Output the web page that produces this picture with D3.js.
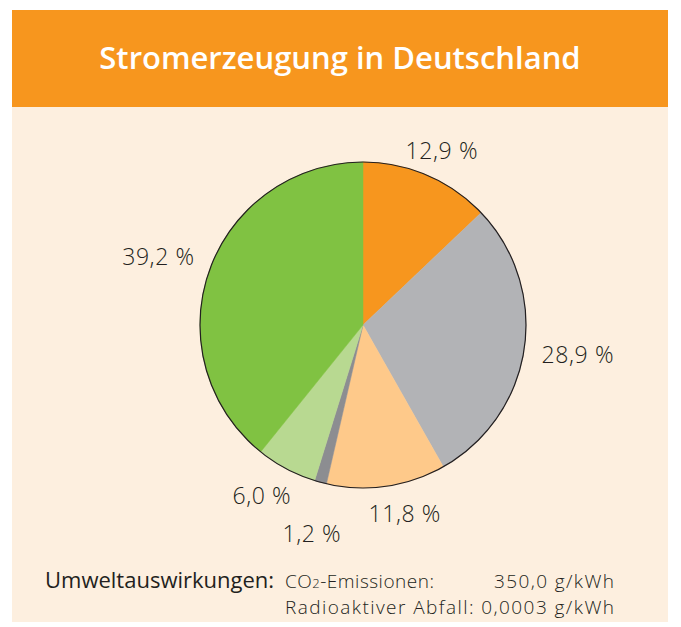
<!DOCTYPE html>
<html>
<head>
<meta charset="utf-8">
<script src="https://cdn.jsdelivr.net/npm/d3@7"></script>
<style>
  body { margin: 0; background: #fff; }
  text { font-family: "Open Sans", sans-serif; }
</style>
</head>
<body>
<div id="chart"></div>
<script>
// data
var sources = ["Kernenergie", "Braunkohle/Steinkohle", "Erdgas", "Öl", "Sonstige", "Erneuerbare"];
var shares = [12.9, 28.9, 11.8, 1.2, 6.0, 39.2];
var labels = ["12,9 %", "28,9 %", "11,8 %", "1,2 %", "6,0 %", "39,2 %"];
var colors = ["#f7961e", "#b2b3b6", "#fec98a", "#8c8d91", "#b8d991", "#80c242"];
// small nudges so labels sit like the original
var labelNudge = [[0, 9], [17, 0], [13, -10], [1, 15], [-7, -6], [-16, -2]];

var width = 681, height = 627;
var cx = 363, cy = 325, radius = 163;

var svg = d3.select("#chart").append("svg").attr("width", width).attr("height", height);

// panel + header
svg.append("rect").attr("x", 12).attr("y", 10).attr("width", 656).attr("height", 612).attr("fill", "#fdefdf");
svg.append("rect").attr("x", 12).attr("y", 10).attr("width", 656).attr("height", 97).attr("fill", "#f7961e");
svg.append("text")
    .attr("x", 340).attr("y", 69)
    .attr("text-anchor", "middle")
    .attr("fill", "#fff")
    .style("font-size", "31px")
    .style("font-weight", 600)
    .text("Stromerzeugung in Deutschland");

var data = sources.map(function (s, i) { return { name: s, value: shares[i], label: labels[i], color: colors[i] }; });

var pie = d3.pie().sort(null).value(function (d) { return d.value; });
var arc = d3.arc().innerRadius(0).outerRadius(radius);
var labelArc = d3.arc().innerRadius(200).outerRadius(200);

var chart = svg.append("g").attr("transform", "translate(" + cx + "," + cy + ")");
var arcs = pie(data);

chart.selectAll("path")
    .data(arcs)
    .enter()
    .append("path")
    .attr("d", arc)
    .attr("fill", function (d) { return d.data.color; })
    .attr("stroke", function (d) { return d.data.color; })
    .attr("stroke-width", 0.5);

// outline
chart.append("circle").attr("r", radius).attr("fill", "none").attr("stroke", "#231f20").attr("stroke-width", 1.2);

chart.selectAll("text.lbl")
    .data(arcs)
    .enter()
    .append("text")
    .attr("class", "lbl")
    .attr("transform", function (d, i) {
        var c = labelArc.centroid(d);
        return "translate(" + (c[0] + labelNudge[i][0]) + "," + (c[1] + labelNudge[i][1]) + ")";
    })
    .attr("text-anchor", "middle")
    .attr("dominant-baseline", "central")
    .attr("fill", "#231f20")
    .style("font-size", "23px")
    .style("font-weight", 300)
    .style("letter-spacing", "0.6px")
    .text(function (d) { return d.data.label; });

// footer
var foot = svg.append("g").attr("fill", "#231f20").style("font-size", "19px");
foot.append("text").attr("x", 45).attr("y", 588).style("font-weight", 400).style("font-size", "22px").text("Umweltauswirkungen:");
var co2 = foot.append("text").attr("x", 285).attr("y", 588).style("font-weight", 300).style("letter-spacing", "0.5px");
co2.append("tspan").text("CO");
co2.append("tspan").style("font-size", "13px").text("2");
co2.append("tspan").text("-Emissionen:");
foot.append("text").attr("x", 614).attr("y", 588).attr("text-anchor", "end").style("font-weight", 300)
    .attr("textLength", 120).text("350,0 g/kWh");
foot.append("text").attr("x", 614).attr("y", 614).attr("text-anchor", "end").style("font-weight", 300)
    .attr("textLength", 329).text("Radioaktiver Abfall: 0,0003 g/kWh");
</script>
</body>
</html>
